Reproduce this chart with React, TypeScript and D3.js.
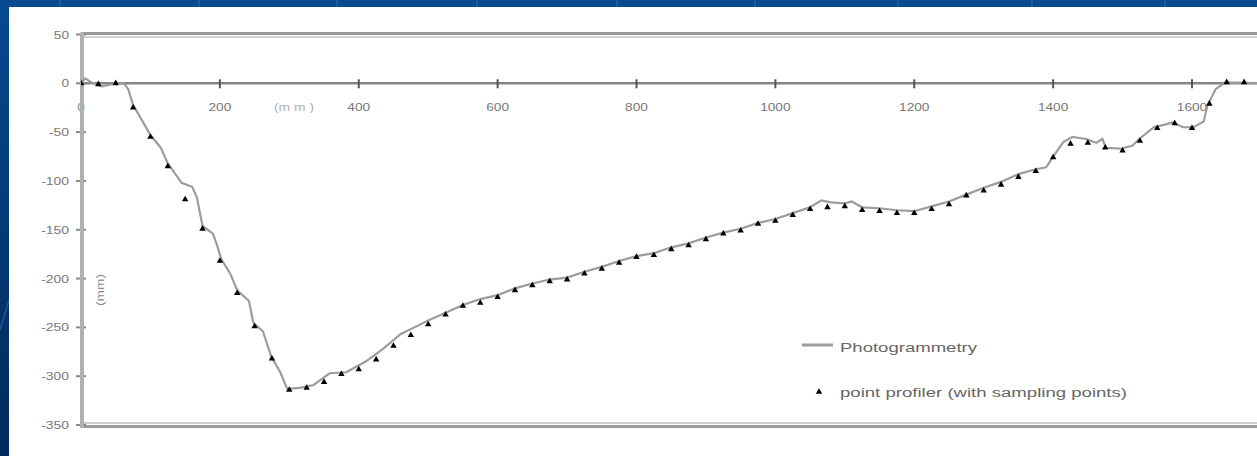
import React from "react";
import * as d3 from "d3";

// ---- data ----
const sampleX = [0, 25, 50, 75, 100, 125, 150, 175, 200, 225, 250, 275, 300, 325, 350, 375, 400, 425, 450, 475, 500, 525, 550, 575, 600, 625, 650, 675, 700, 725, 750, 775, 800, 825, 850, 875, 900, 925, 950, 975, 1000, 1025, 1050, 1075, 1100, 1125, 1150, 1175, 1200, 1225, 1250, 1275, 1300, 1325, 1350, 1375, 1400, 1425, 1450, 1475, 1500, 1525, 1550, 1575, 1600, 1625, 1650, 1675];
const sampleY = [0, -1, 0, -25, -55, -85, -119, -149, -182, -215, -249, -282, -314, -312, -306, -298, -293, -283, -269, -258, -247, -237, -228, -225, -219, -212, -207, -203, -201, -195, -190, -184, -178, -176, -170, -166, -160, -154, -151, -144, -141, -135, -129, -127, -126, -130, -131, -133, -133, -129, -124, -115, -110, -104, -96, -90, -76, -62, -61, -66, -69, -59, -46, -41, -46, -21, 1, 1];

const photoX = [0, 6, 15, 30, 50, 62, 68, 75, 100, 115, 125, 145, 160, 167, 175, 190, 196, 202, 215, 225, 242, 248, 262, 274, 287, 297, 315, 335, 358, 382, 410, 435, 460, 480, 500, 525, 550, 575, 600, 625, 650, 675, 700, 725, 750, 775, 800, 825, 850, 875, 900, 925, 950, 975, 1000, 1025, 1050, 1066, 1080, 1100, 1110, 1125, 1150, 1175, 1200, 1225, 1250, 1275, 1300, 1325, 1350, 1375, 1390, 1400, 1415, 1428, 1447, 1462, 1471, 1476, 1497, 1514, 1524, 1545, 1562, 1572, 1587, 1602, 1617, 1622, 1634, 1648, 1700];
const photoY = [0, 5, 1, -3, 0, 0, -6, -22, -53, -66, -82, -102, -106, -117, -146, -154, -166, -180, -195, -212, -223, -245, -254, -280, -296, -313, -312, -309, -297, -296, -285, -272, -257, -250, -243, -235, -227, -221, -217, -210, -205, -201, -199, -193, -188, -182, -177, -174, -168, -164, -158, -153, -149, -143, -139, -133, -127, -120, -122, -123, -121, -127, -128, -130, -131, -126, -121, -114, -107, -101, -93, -88, -86, -75, -60, -55, -57, -61, -57, -66, -67, -64, -57, -45, -42, -40, -45, -45, -39, -23, -6, 1, 0];

const xTicks = [0, 200, 400, 600, 800, 1000, 1200, 1400, 1600];
const xTickLabels = ["0", "200", "400", "600", "800", "1000", "1200", "1400", "1600"];
const yTicks = [50, 0, -50, -100, -150, -200, -250, -300, -350];
const yTickLabels = ["50", "0", "-50", "-100", "-150", "-200", "-250", "-300", "-350"];
const seriesNames = ["Photogrammetry", "point profiler (with sampling points)"];
const unitLabel = "(m m )";
const yUnitLabel = "(mm)";
const stripeX = [60, 199, 337, 477, 617, 755, 898, 1032, 1165];

const W = 1257;
const H = 456;

export default function App() {
  const x = d3.scaleLinear().domain([0, 1600]).range([81, 1192]);
  const y = d3.scaleLinear().domain([50, -350]).range([34.5, 425]);

  const line = d3
    .line<number>()
    .x((_, i) => x(photoX[i]))
    .y((d) => y(d));
  const tri = d3.symbol().type(d3.symbolTriangle).size(18)() as string;

  const textW = (s: string) =>
    s.split("").reduce((a, c) => a + (c === "-" ? 5 : 7.6), 0);

  const font = "'Liberation Sans', Arial, sans-serif";
  const x0 = x(0);
  const xEnd = W;

  return (
    <svg
      width={W}
      height={H}
      style={{ position: "absolute", left: 0, top: 0, display: "block" }}
      fontFamily={font}
    >
      <defs>
        <linearGradient id="bg" x1="0" y1="0" x2="0" y2="1">
          <stop offset="0" stopColor="#074a8f" />
          <stop offset="1" stopColor="#002a5a" />
        </linearGradient>
        <clipPath id="plot">
          <rect x={x0} y={y(50)} width={xEnd - x0} height={y(-350) - y(50)} />
        </clipPath>
      </defs>
      <rect x={0} y={0} width={W} height={H} fill="url(#bg)" />
      {stripeX.map((sx, i) => (
        <line key={i} x1={sx} x2={sx} y1={0} y2={7} stroke="#2a66ad" strokeWidth={2} opacity={0.6} />
      ))}
      <line x1={0} y1={330} x2={9} y2={300} stroke="#3b79c0" strokeWidth={1.5} opacity={0.5} />
      <rect x={9} y={7} width={W - 9} height={H - 7} fill="#ffffff" />

      {/* top and bottom frame */}
      <line x1={x0} x2={xEnd} y1={y(50) - 1} y2={y(50) - 1} stroke="#999" strokeWidth={3} />
      <line x1={x0} x2={xEnd} y1={y(50) + 2.5} y2={y(50) + 2.5} stroke="#d4d4d4" strokeWidth={2} />
      <line x1={x0} x2={xEnd} y1={y(-350) - 2} y2={y(-350) - 2} stroke="#cfcfcf" strokeWidth={2} />
      <line x1={x0} x2={xEnd} y1={y(-350) + 1.5} y2={y(-350) + 1.5} stroke="#9a9a9a" strokeWidth={3} />

      {/* y ticks and labels */}
      {yTicks.map((t, i) => (
        <g key={t}>
          <line x1={76} x2={86} y1={y(t)} y2={y(t)} stroke="#888" strokeWidth={2} />
          <text
            x={69}
            y={y(t) + 4}
            fontSize={11}
            textAnchor="end"
            fill="#777"
            textLength={textW(yTickLabels[i])}
            lengthAdjust="spacingAndGlyphs"
          >
            {yTickLabels[i]}
          </text>
        </g>
      ))}

      {/* x labels */}
      {xTicks.map((t, i) => (
        <text
          key={t}
          x={x(t)}
          y={111}
          fontSize={11}
          textAnchor="middle"
          fill={t === 0 ? "#888" : "#777"}
          textLength={textW(xTickLabels[i])}
          lengthAdjust="spacingAndGlyphs"
        >
          {xTickLabels[i]}
        </text>
      ))}
      <text
        x={294}
        y={111}
        fontSize={11}
        textAnchor="middle"
        fill="#b0b0b0"
        textLength={40}
        lengthAdjust="spacingAndGlyphs"
      >
        {unitLabel}
      </text>
      <text
        transform={`translate(104,290) rotate(-90)`}
        fontSize={10}
        textAnchor="middle"
        fill="#888"
        textLength={32}
        lengthAdjust="spacingAndGlyphs"
      >
        {yUnitLabel}
      </text>

      {/* left axis */}
      <line x1={82} x2={82} y1={y(50) - 2} y2={y(-350) + 3} stroke="#b0b0b0" strokeWidth={4} />

      {/* zero line */}
      <line x1={x0} x2={xEnd} y1={y(0)} y2={y(0)} stroke="#858585" strokeWidth={2.5} />
      {xTicks.slice(1).map((t) => (
        <line key={t} x1={x(t)} x2={x(t)} y1={y(0) - 4} y2={y(0) + 5} stroke="#555" strokeWidth={2} />
      ))}

      {/* series */}
      <g clipPath="url(#plot)">
        <path d={line(photoY) || ""} fill="none" stroke="#9c9c9c" strokeWidth={2.2} />
        {sampleX.map((sx, i) => (
          <path key={i} d={tri} transform={`translate(${x(sx)},${y(sampleY[i])})`} fill="#000" />
        ))}
      </g>

      {/* legend */}
      <line x1={802} x2={833} y1={345} y2={345} stroke="#9c9c9c" strokeWidth={3} />
      <text x={840} y={352} fontSize={12.5} fill="#666" textLength={137} lengthAdjust="spacingAndGlyphs">
        {seriesNames[0]}
      </text>
      <path d={tri} transform="translate(819,392)" fill="#000" />
      <text x={840} y={397} fontSize={12.5} fill="#666" textLength={287} lengthAdjust="spacingAndGlyphs">
        {seriesNames[1]}
      </text>
    </svg>
  );
}
